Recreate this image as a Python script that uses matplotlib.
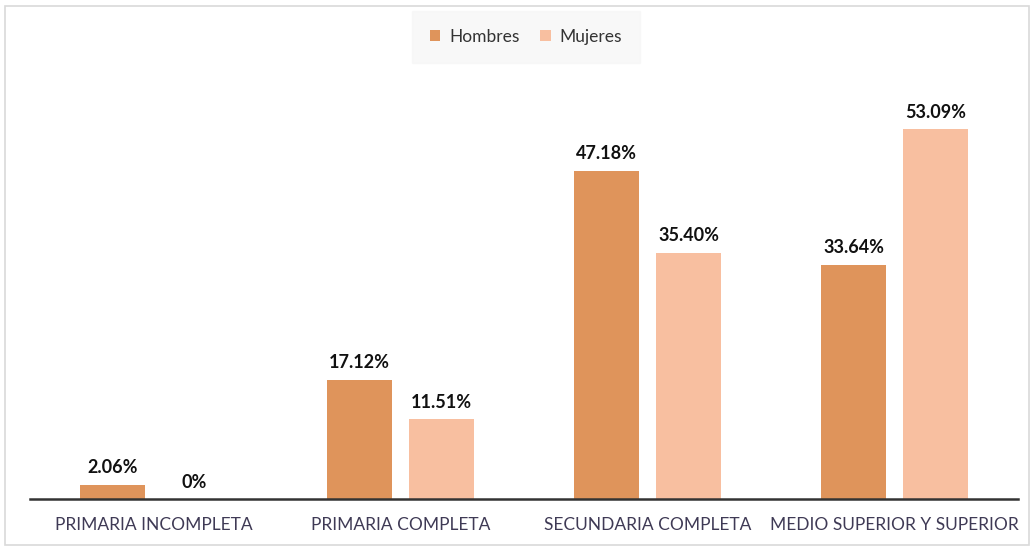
import numpy as np
import matplotlib.pyplot as plt
from matplotlib.patches import Rectangle

categorias = ['PRIMARIA INCOMPLETA', 'PRIMARIA COMPLETA',
              'SECUNDARIA COMPLETA', 'MEDIO SUPERIOR Y SUPERIOR']
hombres = [2.06, 17.12, 47.18, 33.64]
mujeres = [0, 11.51, 35.40, 53.09]
etiquetas_h = ['2.06%', '17.12%', '47.18%', '33.64%']
etiquetas_m = ['0%', '11.51%', '35.40%', '53.09%']

c_h = '#DF945B'
c_m = '#F8BFA0'

plt.rcParams['font.family'] = ['Lato', 'DejaVu Sans']

fig = plt.figure(figsize=(10.32, 5.52), dpi=100)
fig.patches.append(Rectangle((0.005, 0.012), 0.992, 0.978, transform=fig.transFigure,
                             fill=False, edgecolor='#d9d9d9', lw=1.2))
ax = fig.add_axes([30 / 1032, 53 / 552, 988 / 1032, 440 / 552])

x = np.arange(len(categorias))
w = 0.26
off = 0.166
bh = ax.bar(x - off, hombres, w, color=c_h, label='Hombres')
bm = ax.bar(x + off, mujeres, w, color=c_m, label='Mujeres')

for bars, labs in ((bh, etiquetas_h), (bm, etiquetas_m)):
    for b, t in zip(bars, labs):
        ax.annotate(t, (b.get_x() + b.get_width() / 2, b.get_height()),
                    xytext=(0, 6), textcoords='offset points', ha='center', va='bottom',
                    fontsize=13, fontweight='bold', color='#111111')

ax.set_xlim(-0.5, 3.5)
ax.set_ylim(0, 63.2)
ax.set_yticks([])
ax.set_xticks(x)
ax.set_xticklabels(categorias, fontsize=12.5, color='#3f3a55')
ax.tick_params(axis='x', length=0, pad=13)
for s in ['top', 'right', 'left']:
    ax.spines[s].set_visible(False)
ax.spines['bottom'].set_color('#333333')
ax.spines['bottom'].set_linewidth(1.8)

leg = fig.legend(loc='center', bbox_to_anchor=(526 / 1032, 1 - 37 / 552), ncol=2,
                 frameon=True, fontsize=12.5, handlelength=0.6, handleheight=0.6,
                 handletextpad=0.5, columnspacing=1.2, borderpad=0.75)
leg.get_frame().set_facecolor('#f7f7f7')
leg.get_frame().set_edgecolor('#f7f7f7')
leg.get_frame().set_boxstyle('square')
for t in leg.get_texts():
    t.set_color('#333333')

fig.savefig('out.png', dpi=100)
